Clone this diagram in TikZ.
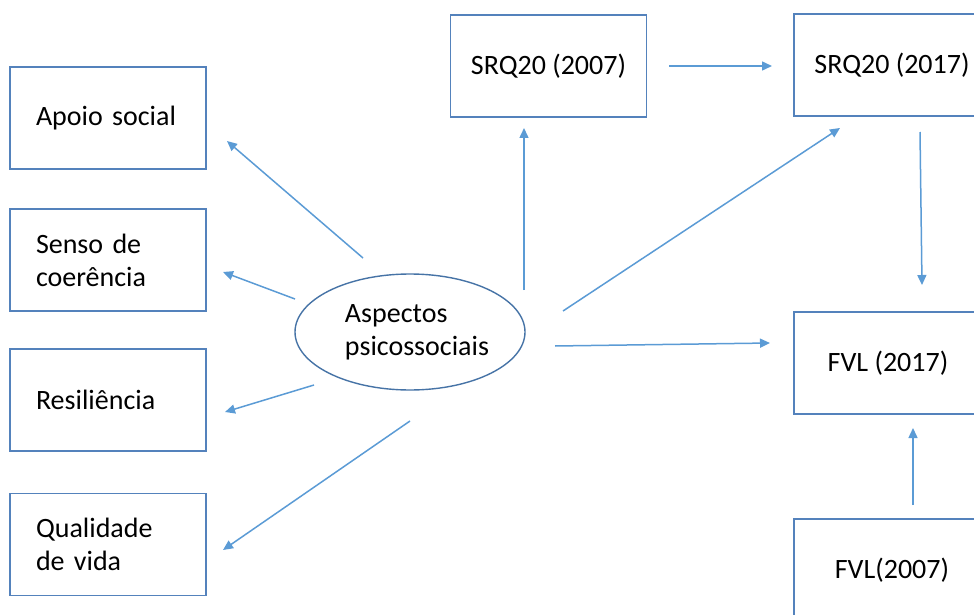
\documentclass[tikz,border=0pt]{standalone}
\usepackage{fontspec}
\setmainfont{Carlito}
\usetikzlibrary{arrows.meta,shapes.geometric}
\definecolor{boxblue}{HTML}{5482BC}
\definecolor{ellblue}{HTML}{4673A6}
\definecolor{arrblue}{HTML}{5B9BD5}
\tikzset{
  x=1pt, y=1pt,
  every node/.style={font=\fontsize{28}{33}\selectfont, text=black},
  leftbox/.style={draw=boxblue, line width=1.4pt, rectangle, minimum width=196pt, minimum height=102pt, text width=144pt, align=left, inner sep=0pt},
  ctrbox/.style={draw=boxblue, line width=1.4pt, rectangle, minimum width=196pt, minimum height=102pt, align=center, inner sep=0pt},
  oval/.style={draw=ellblue, line width=1.4pt, ellipse, minimum width=230pt, minimum height=116pt, align=left, inner sep=0pt},
  conn/.style={draw=arrblue, line width=1.5pt, -{Triangle[length=10pt, width=9pt]}}
}
\begin{document}
\begin{tikzpicture}
\useasboundingbox (0,0) rectangle (974,-615);
\clip (0,0) rectangle (974,-615);
% boxes
\node[leftbox] (apoio) at (108,-118) {Apoio social};
\node[leftbox] (senso) at (108,-260) {Senso de\\coerência};
\node[leftbox] (resil) at (108,-400) {Resiliência};
\node[leftbox] (qual) at (108,-544.5) {Qualidade\\de vida};
\node[ctrbox] (srq07) at (548.5,-66) {SRQ20 (2007)};
\node[ctrbox] (srq17) at (892,-65) {SRQ20 (2017)};
\node[ctrbox] (fvl17) at (892,-363) {FVL (2017)\hspace*{8pt}};
\node[ctrbox] (fvl07) at (892,-570) {FVL(2007)};
\node[oval] (asp) at (410,-332) {\hspace*{14pt}Aspectos\\\hspace*{14pt}psicossociais};
% connector end points
\coordinate (s1) at (363,-258); \coordinate (e1) at (227,-141);
\coordinate (s2) at (295,-299); \coordinate (e2) at (223,-272);
\coordinate (s3) at (314,-385); \coordinate (e3) at (225,-412);
\coordinate (s4) at (410,-421); \coordinate (e4) at (223,-550);
\coordinate (s5) at (524,-290); \coordinate (e5) at (524,-128);
\coordinate (s6) at (669,-66);  \coordinate (e6) at (772,-66);
\coordinate (s7) at (563,-311); \coordinate (e7) at (840,-128);
\coordinate (s8) at (920,-132); \coordinate (e8) at (922,-285);
\coordinate (s9) at (555,-346); \coordinate (e9) at (770,-343);
\coordinate (s10) at (913,-505); \coordinate (e10) at (913,-428);
% connectors
\draw[conn] (s1) -- (e1);
\draw[conn] (s2) -- (e2);
\draw[conn] (s3) -- (e3);
\draw[conn] (s4) -- (e4);
\draw[conn] (s5) -- (e5);
\draw[conn] (s6) -- (e6);
\draw[conn] (s7) -- (e7);
\draw[conn] (s8) -- (e8);
\draw[conn] (s9) -- (e9);
\draw[conn] (s10) -- (e10);
\end{tikzpicture}
\end{document}
